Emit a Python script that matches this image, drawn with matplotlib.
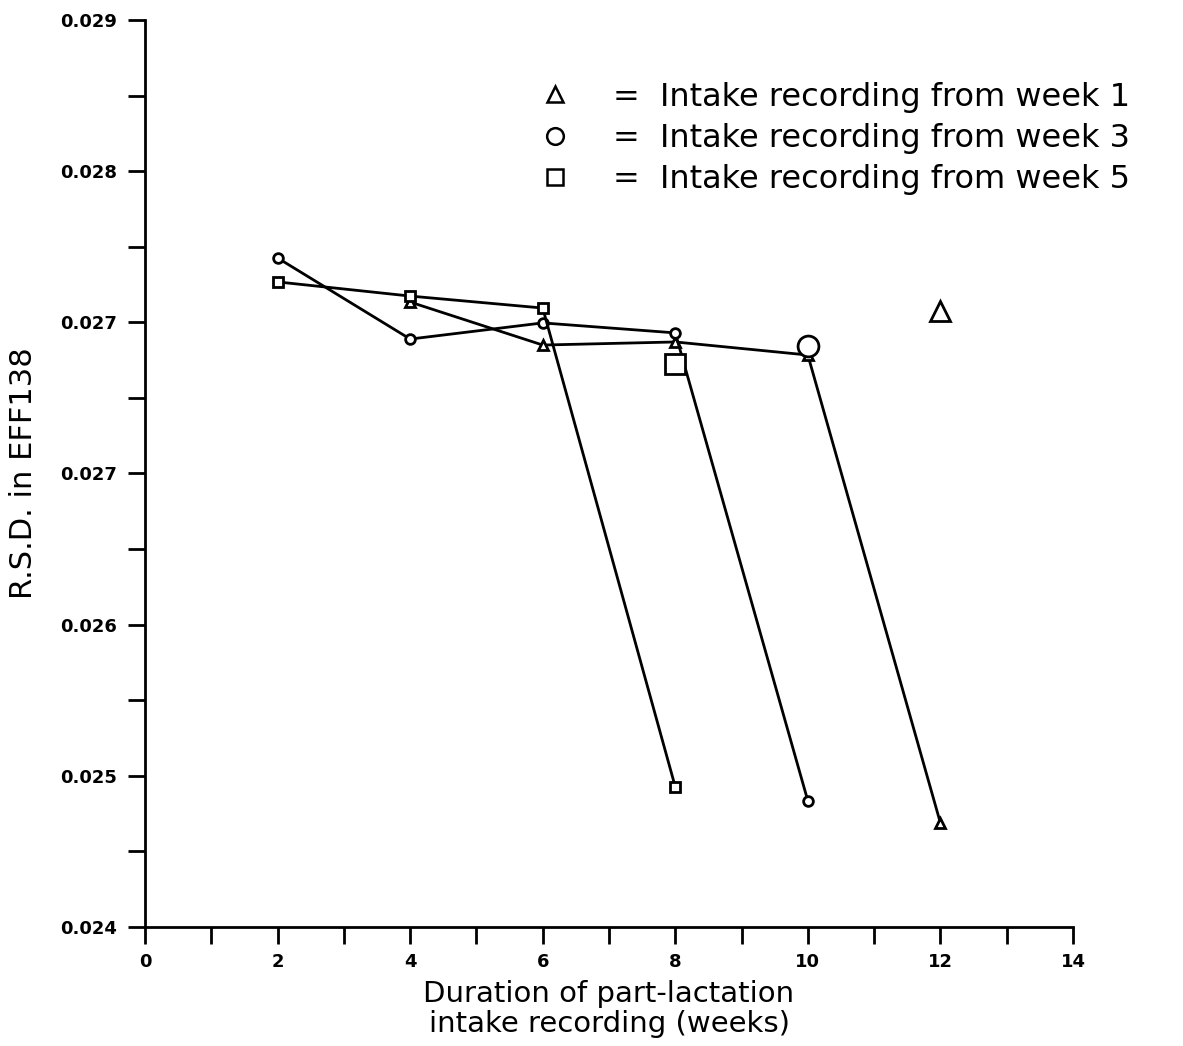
import numpy as np
import matplotlib.pyplot as plt
from matplotlib.lines import Line2D
from matplotlib.ticker import FixedLocator, FormatStrFormatter, MultipleLocator

# part-lactation duration (weeks) and R.S.D. values
weeks_w1 = [4, 6, 8, 10, 12]
rsd_w1 = [0.027445, 0.027208, 0.027225, 0.027153, 0.024573]
weeks_w3 = [2, 4, 6, 8, 10]
rsd_w3 = [0.027688, 0.027241, 0.027330, 0.027275, 0.024695]
weeks_w5 = [2, 4, 6, 8]
rsd_w5 = [0.027556, 0.027478, 0.027412, 0.024772]

# large open markers (full recording reference points)
full_weeks = [12, 10, 8]
full_rsd = [0.027396, 0.027203, 0.027104]

legend_labels = ['=  Intake recording from week 1',
                 '=  Intake recording from week 3',
                 '=  Intake recording from week 5']

fig = plt.figure(figsize=(11.83, 10.46), dpi=100)
ax = fig.add_axes([0.1226, 0.1138, 0.7844, 0.8671])

ax.plot(weeks_w1, rsd_w1, color='black', lw=2, marker='^', ms=7, mfc='white', mew=2)
ax.plot(weeks_w3, rsd_w3, color='black', lw=2, marker='o', ms=7, mfc='white', mew=2)
ax.plot(weeks_w5, rsd_w5, color='black', lw=2, marker='s', ms=7, mfc='white', mew=2)

for x, y, m in zip(full_weeks, full_rsd, ['^', 'o', 's']):
    ax.plot(x, y, ls='none', marker=m, ms=15, mfc='white', mec='black', mew=2)

ax.set_xlim(0, 14)
ax.set_ylim(0.024, 0.029)
ax.xaxis.set_major_locator(MultipleLocator(2))
ax.xaxis.set_minor_locator(MultipleLocator(1))
yt = np.linspace(0.024, 0.029, 7)
ax.yaxis.set_major_locator(FixedLocator(yt))
ax.yaxis.set_minor_locator(FixedLocator((yt[:-1] + yt[1:]) / 2))
ax.yaxis.set_major_formatter(FormatStrFormatter('%.3f'))

for s in ['top', 'right']:
    ax.spines[s].set_visible(False)
for s in ['left', 'bottom']:
    ax.spines[s].set_linewidth(2)
ax.tick_params(which='both', direction='out', width=2, length=12, labelsize=13)
ax.tick_params(axis='x', pad=7)
ax.tick_params(axis='y', pad=8)
for lab in ax.get_xticklabels() + ax.get_yticklabels():
    lab.set_fontweight('bold')

ax.set_xlabel('Duration of part-lactation\nintake recording (weeks)', fontsize=21,
              labelpad=6, linespacing=1.1)
ax.set_ylabel('R.S.D. in EFF138', fontsize=22, labelpad=16)

handles = [Line2D([], [], ls='none', marker=m, ms=12, mfc='white', mec='black', mew=1.8)
           for m in ['^', 'o', 's']]
fig.legend(handles, legend_labels, loc='upper left', bbox_to_anchor=(0.456, 0.922),
           frameon=False, fontsize=23, handlelength=1.0, handletextpad=1.3,
           labelspacing=0.32, borderaxespad=0, borderpad=0)

fig.savefig('out.png', dpi=100)
